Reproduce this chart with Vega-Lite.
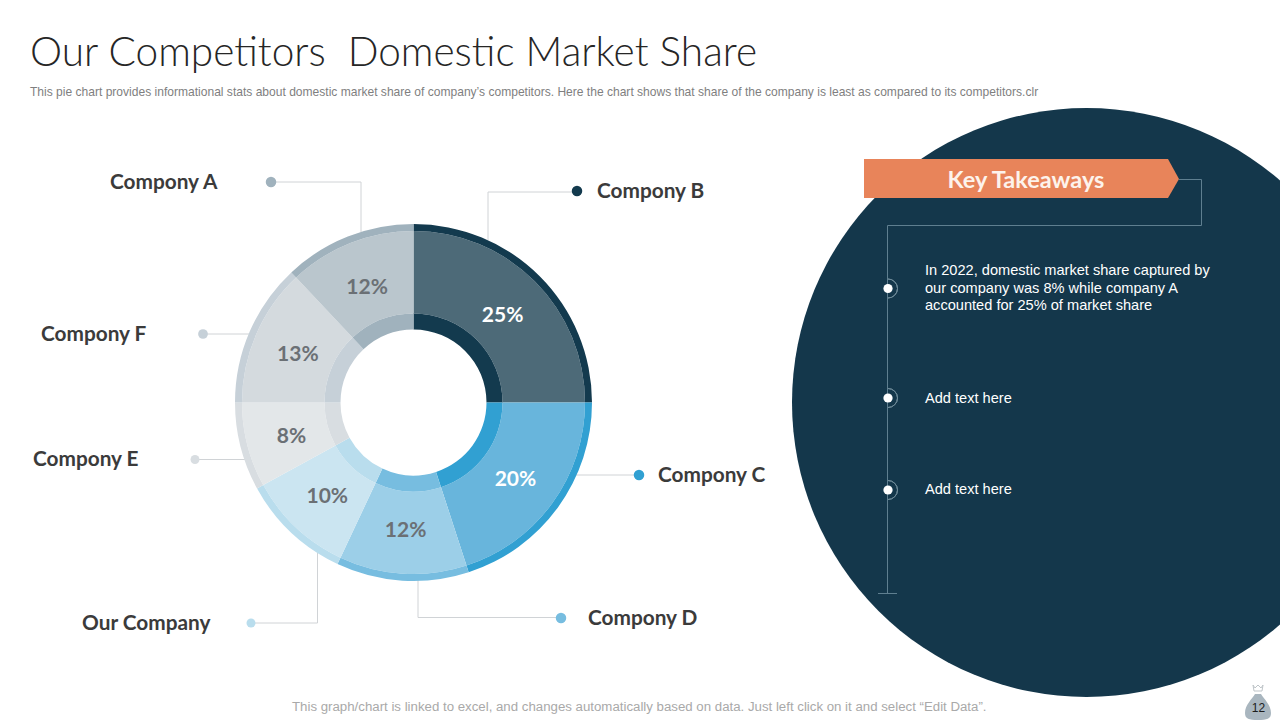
{
"$schema":"https://vega.github.io/schema/vega-lite/v6.json",
"width":1280,"height":720,"padding":0,"autosize":{"type":"none"},
"background":"#ffffff",
"config":{"view":{"stroke":null}},
"layer":[
{"data":{"values":[{}]},"layer":[
 {"mark":{"type":"arc","x":1086.5,"y":402.5,"radius":294.5,"radius2":0,"theta":0,"theta2":6.2832,"fill":"#14374b"}},
 {"mark":{"type":"text","x":30,"y":66,"text":"Our Competitors\u00a0\u00a0Domestic Market Share","align":"left","baseline":"alphabetic","font":"Lato","fontWeight":300,"fontSize":40.55,"fill":"#262626"}},
 {"mark":{"type":"text","x":30,"y":96,"text":"This pie chart provides informational stats about domestic market share of company’s competitors. Here the chart shows that share of the company is least as compared to its competitors.clr","align":"left","baseline":"alphabetic","font":"Liberation Sans","fontSize":12.05,"fill":"#7f7f7f"}},
 {"mark":{"type":"rule","stroke":"#d0d3d6"},"encoding":{"x":{"value":271},"x2":{"value":361},"y":{"value":182},"y2":{"value":182}}},
 {"mark":{"type":"rule","stroke":"#d0d3d6"},"encoding":{"x":{"value":361},"x2":{"value":361},"y":{"value":182},"y2":{"value":232}}},
 {"mark":{"type":"rule","stroke":"#d0d3d6"},"encoding":{"x":{"value":488},"x2":{"value":577},"y":{"value":192},"y2":{"value":192}}},
 {"mark":{"type":"rule","stroke":"#d0d3d6"},"encoding":{"x":{"value":488},"x2":{"value":488},"y":{"value":192},"y2":{"value":240}}},
 {"mark":{"type":"rule","stroke":"#d0d3d6"},"encoding":{"x":{"value":575},"x2":{"value":639},"y":{"value":475},"y2":{"value":475}}},
 {"mark":{"type":"rule","stroke":"#d0d3d6"},"encoding":{"x":{"value":418},"x2":{"value":418},"y":{"value":578},"y2":{"value":617.5}}},
 {"mark":{"type":"rule","stroke":"#d0d3d6"},"encoding":{"x":{"value":418},"x2":{"value":561},"y":{"value":617.5},"y2":{"value":617.5}}},
 {"mark":{"type":"rule","stroke":"#d0d3d6"},"encoding":{"x":{"value":251},"x2":{"value":317.5},"y":{"value":623},"y2":{"value":623}}},
 {"mark":{"type":"rule","stroke":"#d0d3d6"},"encoding":{"x":{"value":317.5},"x2":{"value":317.5},"y":{"value":553},"y2":{"value":623}}},
 {"mark":{"type":"rule","stroke":"#d0d3d6"},"encoding":{"x":{"value":195},"x2":{"value":245},"y":{"value":459.5},"y2":{"value":459.5}}},
 {"mark":{"type":"rule","stroke":"#d0d3d6"},"encoding":{"x":{"value":203},"x2":{"value":252},"y":{"value":334},"y2":{"value":334}}},
 {"mark":{"type":"point","x":271,"y":182,"size":110,"filled":true,"fill":"#a0b2bd","opacity":1}},
 {"mark":{"type":"point","x":577,"y":191,"size":110,"filled":true,"fill":"#133a4e","opacity":1}},
 {"mark":{"type":"point","x":639,"y":475,"size":110,"filled":true,"fill":"#31a0d2","opacity":1}},
 {"mark":{"type":"point","x":561,"y":618,"size":110,"filled":true,"fill":"#77bde0","opacity":1}},
 {"mark":{"type":"point","x":251,"y":623,"size":80,"filled":true,"fill":"#b9dded","opacity":1}},
 {"mark":{"type":"point","x":195,"y":459.5,"size":80,"filled":true,"fill":"#d8dde1","opacity":1}},
 {"mark":{"type":"point","x":203,"y":334,"size":95,"filled":true,"fill":"#c6d0d8","opacity":1}},
 {"mark":{"type":"text","x":110,"y":183,"text":"Compony A","align":"left","baseline":"middle","font":"Lato","fontWeight":700,"fontSize":20.8,"fill":"#3b3b3b"}},
 {"mark":{"type":"text","x":597,"y":192,"text":"Compony B","align":"left","baseline":"middle","font":"Lato","fontWeight":700,"fontSize":20.8,"fill":"#3b3b3b"}},
 {"mark":{"type":"text","x":658,"y":476,"text":"Compony C","align":"left","baseline":"middle","font":"Lato","fontWeight":700,"fontSize":20.8,"fill":"#3b3b3b"}},
 {"mark":{"type":"text","x":588,"y":619,"text":"Compony D","align":"left","baseline":"middle","font":"Lato","fontWeight":700,"fontSize":20.8,"fill":"#3b3b3b"}},
 {"mark":{"type":"text","x":82,"y":624,"text":"Our Company","align":"left","baseline":"middle","font":"Lato","fontWeight":700,"fontSize":20.8,"fill":"#3b3b3b"}},
 {"mark":{"type":"text","x":33,"y":460,"text":"Compony E","align":"left","baseline":"middle","font":"Lato","fontWeight":700,"fontSize":20.8,"fill":"#3b3b3b"}},
 {"mark":{"type":"text","x":41,"y":335,"text":"Compony F","align":"left","baseline":"middle","font":"Lato","fontWeight":700,"fontSize":20.8,"fill":"#3b3b3b"}},
 {"mark":{"type":"rule","stroke":"#5f7f90"},"encoding":{"x":{"value":1179},"x2":{"value":1201.5},"y":{"value":179.5},"y2":{"value":179.5}}},
 {"mark":{"type":"rule","stroke":"#5f7f90"},"encoding":{"x":{"value":1201.5},"x2":{"value":1201.5},"y":{"value":179.5},"y2":{"value":225.5}}},
 {"mark":{"type":"rule","stroke":"#5f7f90"},"encoding":{"x":{"value":887.5},"x2":{"value":1201.5},"y":{"value":225.5},"y2":{"value":225.5}}},
 {"mark":{"type":"rule","stroke":"#5f7f90"},"encoding":{"x":{"value":887.5},"x2":{"value":887.5},"y":{"value":225.5},"y2":{"value":593.5}}},
 {"mark":{"type":"rule","stroke":"#5f7f90"},"encoding":{"x":{"value":878},"x2":{"value":897},"y":{"value":593.5},"y2":{"value":593.5}}},
 {"mark":{"type":"point","x":864,"y":159,"size":4,"shape":"M0,0L304,0L315,20L304,39L0,39Z","filled":true,"fill":"#e8845a","opacity":1}},
 {"mark":{"type":"text","x":1026,"y":181,"text":"Key Takeaways","align":"center","baseline":"middle","font":"Lato","fontWeight":700,"fontSize":23.5,"fill":"#fdf3ec"}},
 {"mark":{"type":"arc","x":888,"y":288.5,"radius":9.5,"radius2":9.5,"theta":0,"theta2":3.1416,"stroke":"#6e8a98","strokeWidth":1,"fill":null}},
 {"mark":{"type":"arc","x":888,"y":398,"radius":9.5,"radius2":9.5,"theta":0,"theta2":3.1416,"stroke":"#6e8a98","strokeWidth":1,"fill":null}},
 {"mark":{"type":"arc","x":888,"y":490,"radius":9.5,"radius2":9.5,"theta":0,"theta2":3.1416,"stroke":"#6e8a98","strokeWidth":1,"fill":null}},
 {"mark":{"type":"point","x":888,"y":288.5,"size":85,"filled":true,"fill":"#ffffff","opacity":1}},
 {"mark":{"type":"point","x":888,"y":398,"size":85,"filled":true,"fill":"#ffffff","opacity":1}},
 {"mark":{"type":"point","x":888,"y":490,"size":85,"filled":true,"fill":"#ffffff","opacity":1}},
 {"mark":{"type":"text","x":925,"y":271,"text":["In 2022, domestic market share captured by","our company was 8% while company A","accounted for 25% of market share"],"lineHeight":17.7,"align":"left","baseline":"middle","font":"Liberation Sans","fontSize":14.6,"fill":"#ffffff"}},
 {"mark":{"type":"text","x":925,"y":399,"text":"Add text here","align":"left","baseline":"middle","font":"Liberation Sans","fontSize":14.6,"fill":"#ffffff"}},
 {"mark":{"type":"text","x":925,"y":490,"text":"Add text here","align":"left","baseline":"middle","font":"Liberation Sans","fontSize":14.6,"fill":"#ffffff"}},
 {"mark":{"type":"text","x":292,"y":711,"text":"This graph/chart is linked to excel, and changes automatically based on data. Just left click on it and select “Edit Data”.","align":"left","baseline":"alphabetic","font":"Liberation Sans","fontSize":13.25,"fill":"#a9a9a9"}},
 {"mark":{"type":"point","x":1258,"y":694,"size":4,"shape":"M-3,0L3,0C6,5 13,11 13,19C13,25 9,26 0,26C-9,26 -13,25 -13,19C-13,11 -6,5 -3,0Z","filled":true,"fill":"#a9b6bf","opacity":1}},
 {"mark":{"type":"point","x":1258,"y":685,"size":4,"shape":"M-5,0L-3,3L0,0L3,3L5,0L4,6L-4,6Z","filled":false,"fill":null,"stroke":"#bfc5c9","strokeWidth":1,"opacity":1}},
 {"mark":{"type":"text","x":1258.5,"y":708,"text":"12","align":"center","baseline":"middle","font":"Liberation Sans","fontSize":12,"fill":"#1c1c1c"}}
]},
{"data":{"values":[
 {"company":"Compony B","rank":1,"share":0.25},
 {"company":"Compony C","rank":2,"share":0.20},
 {"company":"Compony D","rank":3,"share":0.12},
 {"company":"Our Company","rank":4,"share":0.10},
 {"company":"Compony E","rank":5,"share":0.08},
 {"company":"Compony F","rank":6,"share":0.13},
 {"company":"Compony A","rank":7,"share":0.12}
]},
"encoding":{
 "x":{"value":413.5},"y":{"value":402.5},
 "theta":{"field":"share","type":"quantitative","stack":true},
 "order":{"field":"rank","type":"ordinal"}
},
"layer":[
 {"mark":{"type":"arc","radius":171.5,"radius2":89},
  "encoding":{"color":{"field":"company","type":"nominal","legend":null,"scale":{"domain":["Compony B","Compony C","Compony D","Our Company","Compony E","Compony F","Compony A"],"range":["#4d6a78","#68b5dc","#9ccfe8","#cbe5f1","#e3e7e9","#d4dade","#bac6cd"]}}}},
 {"mark":{"type":"arc","radius":178.5,"radius2":171.5},
  "encoding":{"color":{"field":"company","type":"nominal","legend":null,"scale":{"domain":["Compony B","Compony C","Compony D","Our Company","Compony E","Compony F","Compony A"],"range":["#133a4e","#31a0d2","#77bde0","#b9dded","#d8dde1","#c6d0d8","#a0b2bd"]}}}},
 {"mark":{"type":"arc","radius":89,"radius2":73},
  "encoding":{"color":{"field":"company","type":"nominal","legend":null,"scale":{"domain":["Compony B","Compony C","Compony D","Our Company","Compony E","Compony F","Compony A"],"range":["#133a4e","#31a0d2","#77bde0","#b9dded","#d8dde1","#c6d0d8","#a0b2bd"]}}}},
 {"mark":{"type":"text","radius":126,"dy":3,"font":"Lato","fontWeight":700,"fontSize":21,"align":"center","baseline":"middle"},
  "encoding":{"text":{"field":"share","type":"quantitative","format":".0%"},
   "color":{"field":"company","type":"nominal","legend":null,"scale":{"domain":["Compony B","Compony C","Compony D","Our Company","Compony E","Compony F","Compony A"],"range":["#ffffff","#ffffff","#6b7075","#6b7075","#6b7075","#6b7075","#6b7075"]}}}}
],
"resolve":{"scale":{"color":"independent"}}
}
],
"resolve":{"scale":{"color":"independent"}}
}
